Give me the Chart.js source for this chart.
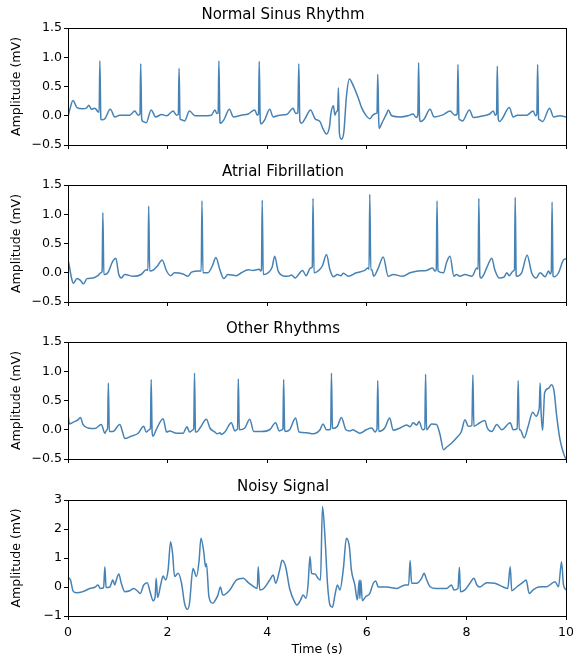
<!DOCTYPE html>
<html>
<head>
<meta charset="utf-8">
<title>ECG rhythm samples</title>
<script src="https://cdn.jsdelivr.net/npm/chart.js@4.4.0/dist/chart.umd.min.js"></script>
<style>
  body { margin: 0; background: #fff; }
  #wrap { position: relative; width: 573px; height: 657px; }
  #wrap canvas { position: absolute; left: 0; }
</style>
</head>
<body>
<div id="wrap">
  <canvas id="nsrChart" width="573" height="155" style="top:0px"></canvas>
  <canvas id="afibChart" width="573" height="155" style="top:157px"></canvas>
  <canvas id="otherChart" width="573" height="155" style="top:314px"></canvas>
  <canvas id="noisyChart" width="573" height="185" style="top:472px"></canvas>
</div>
<script>
// tick values + labels
const timeTicks = [0, 2, 4, 6, 8, 10];
const timeTickLabels = ['0', '2', '4', '6', '8', '10'];
const ampTicks = [-0.5, 0, 0.5, 1, 1.5];
const ampTickLabels = ['\u22120.5', '0.0', '0.5', '1.0', '1.5'];
const noisyTicks = [-1, 0, 1, 2, 3];
const noisyTickLabels = ['\u22121', '0', '1', '2', '3'];

// normal sinus rhythm
const nsrTime = [
  0, 0.04, 0.1, 0.18, 0.3, 0.37, 0.42, 0.47, 0.54, 0.6,
  0.625, 0.64, 0.66, 0.68, 0.74, 0.85, 0.94, 1.04, 1.24, 1.34, 1.41,
  1.445, 1.46, 1.48, 1.51, 1.57, 1.67, 1.76, 1.88, 1.98, 2.11, 2.18,
  2.215, 2.23, 2.25, 2.28, 2.34, 2.44, 2.55, 2.71, 2.88, 2.95, 2.99,
  3.015, 3.03, 3.05, 3.06, 3.13, 3.24, 3.32, 3.48, 3.62, 3.75, 3.8,
  3.825, 3.84, 3.86, 3.88, 3.95, 4.05, 4.12, 4.25, 4.39, 4.52, 4.57,
  4.615, 4.635, 4.655, 4.69, 4.76, 4.87, 4.96, 5.06, 5.12, 5.19, 5.25,
  5.28, 5.33, 5.36, 5.39, 5.415, 5.43, 5.45, 5.49, 5.54, 5.59, 5.65,
  5.73, 5.83, 5.9, 5.98, 6.06, 6.12, 6.18,
  6.205, 6.22, 6.24, 6.25, 6.3, 6.4, 6.43, 6.5, 6.67, 6.83, 6.93, 6.99,
  7.025, 7.04, 7.06, 7.08, 7.15, 7.27, 7.35, 7.54, 7.67, 7.77,
  7.815, 7.83, 7.85, 7.87, 7.92, 8.06, 8.14, 8.34, 8.47, 8.54, 8.58,
  8.605, 8.62, 8.64, 8.66, 8.72, 8.86, 8.94, 9.02, 9.21, 9.34, 9.39,
  9.415, 9.43, 9.45, 9.47, 9.53, 9.67, 9.75, 9.88, 10
];
const nsrAmp = [
  -0.02, 0.12, 0.26, 0.14, 0.12, 0.13, 0.18, 0.11, 0.13, 0.07,
  0.06, 0.94, -0.05, -0.07, -0.05, 0.11, -0.02, 0.01, 0.01, 0.08, 0.01,
  0.03, 0.89, -0.06, -0.1, -0.12, 0.1, -0.02, 0.02, 0, 0.08, 0.01,
  0.02, 0.81, -0.05, -0.07, -0.09, 0.08, 0, 0, 0.01, 0.1, 0.04,
  0.05, 0.94, -0.08, -0.13, -0.07, 0.11, -0.02, 0.01, 0.03, 0.1, 0.01,
  0.03, 0.93, -0.08, -0.14, -0.07, 0.11, -0.02, 0.01, 0.02, 0.13, 0.04,
  0.05, 0.89, -0.08, -0.13, -0.05, 0.1, -0.05, -0.1, -0.22, -0.31, -0.19,
  0.04, 0.17, 0.01, 0.07, 0.1, 0.48, -0.3, -0.4, -0.27, 0.32, 0.63,
  0.51, 0.3, 0.13, 0.01, -0.05, 0.01, 0.04,
  0.05, 0.71, -0.1, -0.22, -0.13, 0.04, 0.1, 0, -0.02, 0, 0.03, -0.03,
  0.02, 0.91, -0.05, -0.1, -0.06, 0.11, -0.02, 0.02, 0.08, 0.01,
  0.03, 0.88, -0.04, -0.07, -0.09, 0.1, -0.03, 0, 0.03, 0.08, 0.01,
  0.03, 0.85, -0.06, -0.1, -0.05, 0.14, -0.02, 0.01, 0.01, 0.08, 0,
  0.03, 0.88, -0.05, -0.07, -0.1, 0.13, -0.02, 0, -0.02
];

// atrial fibrillation
const afibTime = [
  0, 0.03, 0.07, 0.11, 0.18, 0.25, 0.31, 0.38, 0.5, 0.6, 0.66,
  0.685, 0.7, 0.72, 0.74, 0.8, 0.9, 0.96, 1.02, 1.07, 1.14, 1.31, 1.47, 1.57,
  1.605, 1.62, 1.64, 1.72, 1.8, 1.89, 1.98, 2.06, 2.14, 2.31, 2.41, 2.48, 2.63,
  2.675, 2.69, 2.71, 2.81, 2.9, 2.97, 3.05, 3.13, 3.21, 3.38, 3.48, 3.62, 3.72, 3.84, 3.87,
  3.885, 3.9, 3.92, 4.02, 4.1, 4.15, 4.22, 4.31, 4.42, 4.49, 4.56, 4.71, 4.78, 4.87,
  4.905, 4.92, 4.94, 5.02, 5.11, 5.19, 5.26, 5.33, 5.41, 5.48, 5.53, 5.63, 5.79, 5.96, 6.02,
  6.045, 6.06, 6.08, 6.1, 6.14, 6.23, 6.33, 6.43, 6.53, 6.72, 6.87, 7.03, 7.2, 7.32, 7.37,
  7.395, 7.41, 7.43, 7.54, 7.6, 7.67, 7.75, 7.8, 7.87, 7.97, 8.11, 8.21,
  8.235, 8.25, 8.27, 8.29, 8.35, 8.42, 8.51, 8.57, 8.66, 8.76, 8.81, 8.86, 8.94,
  8.965, 8.98, 9, 9.01, 9.11, 9.22, 9.31, 9.4, 9.48, 9.58, 9.65, 9.68,
  9.705, 9.72, 9.74, 9.76, 9.85, 9.95, 10
];
const afibAmp = [
  0.23, 0.1, -0.09, -0.18, -0.1, -0.13, -0.19, -0.1, -0.09, -0.05, 0,
  0.02, 1.03, -0.03, -0.03, 0, 0.2, 0.25, -0.03, -0.09, -0.03, -0.06, -0.03, 0.05,
  0.04, 1.14, 0.03, 0.05, 0.12, 0.22, 0.03, -0.05, 0, -0.02, -0.06, 0.01, 0.03,
  0.03, 1.23, 0, 0, 0.12, 0.26, 0.05, -0.1, -0.03, -0.05, 0, 0.05, 0.04, 0.06, 0.03,
  0.05, 1.24, -0.03, 0, 0.1, 0.28, 0.03, -0.05, -0.06, -0.04, -0.09, 0.04, -0.05, 0.08,
  0.1, 1.27, 0, 0.03, 0.12, 0.31, 0.05, -0.07, -0.03, -0.05, -0.01, -0.06, 0, 0.04, 0.08,
  0.06, 1.34, 0.05, 0.05, -0.06, 0.08, 0.27, -0.06, -0.03, -0.06, 0, 0.03, 0.04, 0.08, 0.03,
  0.05, 1.23, 0.03, 0, 0.17, 0.28, -0.06, -0.03, -0.06, -0.03, -0.06, 0.08,
  0.06, 1.27, -0.05, -0.09, -0.03, 0.11, 0.25, 0.05, -0.09, -0.07, 0, -0.05, 0.03,
  0.05, 1.29, -0.04, -0.06, 0, 0.3, 0, -0.09, 0, -0.07, 0.03, -0.02,
  0.02, 1.21, -0.05, -0.07, 0, 0.22, 0.24
];

// other rhythms
const otherTime = [
  0, 0.03, 0.13, 0.2, 0.25, 0.3, 0.4, 0.54, 0.67, 0.74, 0.78,
  0.795, 0.81, 0.83, 0.9, 1.04, 1.09, 1.14, 1.27, 1.41, 1.52, 1.57, 1.63,
  1.655, 1.67, 1.69, 1.71, 1.77, 1.91, 1.98, 2.04, 2.18, 2.31, 2.39, 2.44, 2.51,
  2.525, 2.54, 2.56, 2.58, 2.65, 2.78, 2.85, 2.95, 3, 3.05, 3.08, 3.15, 3.28, 3.35, 3.39,
  3.405, 3.42, 3.44, 3.55, 3.65, 3.73, 3.88, 4.05, 4.17, 4.24, 4.3,
  4.315, 4.33, 4.35, 4.37, 4.45, 4.57, 4.64, 4.79, 4.92, 5.06, 5.12, 5.19, 5.25,
  5.275, 5.29, 5.31, 5.41, 5.49, 5.58, 5.66, 5.72, 5.79, 5.86, 5.99, 6.1, 6.17, 6.2,
  6.205, 6.22, 6.24, 6.36, 6.46, 6.53, 6.67, 6.8, 6.87, 6.93, 7, 7.05, 7.12, 7.165,
  7.18, 7.2, 7.3, 7.4, 7.47, 7.54, 7.6, 7.7, 7.8, 7.9, 7.97, 8.04, 8.11,
  8.13, 8.15, 8.27, 8.37, 8.42, 8.51, 8.61, 8.71, 8.88, 8.94, 9.02,
  9.04, 9.06, 9.08, 9.16, 9.24, 9.33, 9.4, 9.45, 9.465,
  9.48, 9.5, 9.53, 9.55, 9.57, 9.65, 9.71, 9.76, 9.81, 9.88, 9.95, 10
];
const otherAmp = [
  0.27, 0.1, 0.14, 0.17, 0.21, 0.09, 0.03, 0.02, 0.09, -0.06, 0,
  0.02, 0.8, -0.03, -0.03, 0.09, -0.02, -0.15, -0.11, -0.06, 0.06, -0.04, 0,
  0.02, 0.86, -0.05, -0.11, 0, 0.19, -0.04, -0.02, -0.06, -0.06, 0.05, -0.04, 0,
  0.02, 0.97, -0.03, -0.04, 0.03, 0.18, 0.03, -0.04, -0.07, -0.05, -0.08, -0.04, 0.12, -0.02, 0,
  0.02, 0.87, 0, 0.03, 0.18, -0.03, -0.03, 0, 0.12, -0.02, 0,
  0.02, 0.86, 0, -0.03, 0, 0.2, -0.04, -0.05, -0.07, 0, 0.1, 0, 0,
  0.03, 0.97, 0.02, 0.06, 0.21, 0, -0.02, 0, -0.03, -0.06, 0, 0.03, -0.04, 0,
  0.02, 0.84, -0.03, 0.03, 0.2, -0.01, 0.03, 0.08, 0.05, 0.12, 0.08, 0.14, 0, 0.02,
  0.95, 0, 0.1, 0.09, -0.08, -0.34, -0.3, -0.23, -0.14, -0.03, 0.17, 0.06, 0.07,
  0.94, 0.06, 0.12, 0.16, 0.03, -0.03, 0.09, 0, 0.12, 0, 0.02,
  0.84, 0, 0, -0.14, 0.06, 0.3, 0.23, 0.32, 0.4,
  0.8, 0.3, -0.01, 0.3, 0.63, 0.71, 0.77, 0.66, 0.26, -0.17, -0.4, -0.51
];

// noisy signal
const noisyTime = [
  0, 0.05, 0.1, 0.17, 0.3, 0.44, 0.54, 0.6, 0.65, 0.715,
  0.74, 0.765, 0.84, 0.9, 0.94, 0.97, 1.02, 1.07, 1.14, 1.24,
  1.32, 1.39, 1.45, 1.52, 1.59, 1.65, 1.71, 1.75, 1.77, 1.8,
  1.86, 1.91, 1.96, 2.01, 2.06, 2.1, 2.14, 2.21, 2.28, 2.34,
  2.4, 2.44, 2.51, 2.58, 2.63, 2.67, 2.73, 2.76, 2.78, 2.83,
  2.91, 2.96, 3.01, 3.06, 3.11, 3.25, 3.38, 3.52, 3.62, 3.75,
  3.8, 3.82, 3.85, 3.93, 4.05, 4.12, 4.17, 4.25, 4.3, 4.37,
  4.45, 4.55, 4.6, 4.67, 4.72, 4.78, 4.82, 4.86, 4.89, 4.96,
  5.02, 5.07, 5.11, 5.16, 5.21, 5.26, 5.31, 5.36, 5.41, 5.46,
  5.53, 5.59, 5.65, 5.69, 5.76, 5.81, 5.85, 5.86, 5.88, 5.91,
  5.98, 6.06, 6.13, 6.18, 6.23, 6.4, 6.6, 6.77, 6.84, 6.87,
  6.9, 7, 7.1, 7.15, 7.2, 7.27, 7.4, 7.6, 7.7, 7.75,
  7.83, 7.86, 7.88, 7.97, 8.07, 8.15, 8.21, 8.27, 8.41, 8.57,
  8.74, 8.83, 8.88, 8.91, 9.01, 9.13, 9.2, 9.26, 9.34, 9.45,
  9.61, 9.78, 9.85, 9.91, 9.95, 10
];
const noisyAmp = [
  0.33, 0.24, -0.13, -0.2, -0.16, -0.05, -0.01, 0.07, -0.05, -0.02,
  0.7, -0.02, 0, 0.24, 0.07, 0.24, 0.45, 0.13, -0.16, -0.13,
  -0.05, -0.13, -0.22, 0.07, 0.15, -0.18, -0.47, -0.33, 0.3, -0.36,
  0.07, 0.38, 0.24, 0.59, 1.56, 1.16, 0.36, 0.47, 0.13, -0.56,
  -0.77, -0.56, 0.64, 0.36, 0.87, 1.68, 1.16, 0.7, 0.8, -0.33,
  -0.56, -0.45, -0.28, 0, -0.28, -0.1, 0.24, 0.3, 0.15, -0.01,
  -0.05, 0.7, -0.1, -0.05, 0.24, 0.41, 0.13, 0.59, 0.92, 0.7,
  -0.05, -0.51, -0.62, -0.45, -0.28, -0.39, 0.07, 1.05, 0.47, 0.45,
  0.3, 0.24, 2.78, 1.74, 0.13, -0.62, -0.7, -0.28, 0.07, -0.1,
  0.64, 1.68, 1.39, 0.59, 0.07, -0.45, 0.24, -0.4, 0.24, -0.47,
  -0.33, -0.22, 0.13, 0.21, 0, 0, -0.05, 0.07, 0.07, 0.91,
  0.13, 0.13, 0.3, 0.47, 0.26, 0.01, -0.05, -0.05, 0.07, -0.1,
  -0.05, 0.68, -0.16, -0.1, 0.13, 0.3, 0.07, 0, 0.15, 0.13,
  0, -0.05, 0.7, -0.13, 0, 0.15, 0.24, -0.22, -0.1, 0,
  0.01, 0.18, 0.01, 0.87, 0.07, -0.1
];

Chart.defaults.font.family = "'DejaVu Sans', sans-serif";
Chart.defaults.color = '#000';

const lineColor = '#4682b4';
const labelSize = 12.6;

// black box round each panel (matplotlib spines)
const spines = {
  id: 'spines',
  afterDatasetsDraw(chart) {
    const { ctx, chartArea: a } = chart;
    ctx.save();
    ctx.strokeStyle = '#000';
    ctx.lineWidth = 1;
    ctx.strokeRect(Math.round(a.left) + 0.5, Math.round(a.top) + 0.5, Math.round(a.width), Math.round(a.height));
    ctx.restore();
  }
};

function makePanel(id, title, times, amps, yTicks, yLabels, showTime) {
  const points = times.map((t, i) => ({ x: t, y: amps[i] }));

  return new Chart(document.getElementById(id), {
    type: 'scatter',
    data: {
      datasets: [{
        data: points,
        showLine: true,
        borderColor: lineColor,
        borderWidth: 1.5,
        pointRadius: 0,
        cubicInterpolationMode: 'monotone',
        fill: false
      }]
    },
    options: {
      responsive: false,
      animation: false,
      devicePixelRatio: 1,
      layout: { autoPadding: false, padding: { left: 0, right: 7, top: 0, bottom: 0 } },
      plugins: {
        legend: { display: false },
        tooltip: { enabled: false },
        title: {
          display: true,
          text: title,
          color: '#000',
          font: { size: 15, weight: 'normal' },
          padding: { top: 6, bottom: 4 }
        }
      },
      scales: {
        x: {
          type: 'linear',
          min: timeTicks[0],
          max: timeTicks[timeTicks.length - 1],
          afterBuildTicks: s => { s.ticks = timeTicks.map(v => ({ value: v })); },
          afterFit: s => {
            s.height = showTime ? 41 : 10;
            s.paddingLeft = 0;
            s.paddingRight = 0;
          },
          border: { display: false },
          grid: { drawOnChartArea: false, drawTicks: true, tickLength: 4, color: '#000' },
          ticks: {
            display: showTime,
            autoSkip: false,
            maxRotation: 0,
            padding: 5,
            font: { size: labelSize },
            callback: (v, i) => timeTickLabels[i]
          },
          title: {
            display: showTime,
            text: 'Time (s)',
            font: { size: labelSize },
            padding: { top: 0, bottom: 0 }
          }
        },
        y: {
          min: yTicks[0],
          max: yTicks[yTicks.length - 1],
          afterBuildTicks: s => { s.ticks = yTicks.map(v => ({ value: v })); },
          afterFit: s => { s.width = 68; },
          border: { display: false },
          grid: { drawOnChartArea: false, drawTicks: true, tickLength: 4, color: '#000' },
          ticks: {
            autoSkip: false,
            padding: 2,
            font: { size: labelSize },
            callback: (v, i) => yLabels[i]
          },
          title: {
            display: true,
            text: 'Amplitude (mV)',
            font: { size: labelSize },
            padding: { top: 9, bottom: 0 }
          }
        }
      }
    },
    plugins: [spines]
  });
}

makePanel('nsrChart', 'Normal Sinus Rhythm', nsrTime, nsrAmp, ampTicks, ampTickLabels, false);
makePanel('afibChart', 'Atrial Fibrillation', afibTime, afibAmp, ampTicks, ampTickLabels, false);
makePanel('otherChart', 'Other Rhythms', otherTime, otherAmp, ampTicks, ampTickLabels, false);
makePanel('noisyChart', 'Noisy Signal', noisyTime, noisyAmp, noisyTicks, noisyTickLabels, true);
</script>
</body>
</html>
